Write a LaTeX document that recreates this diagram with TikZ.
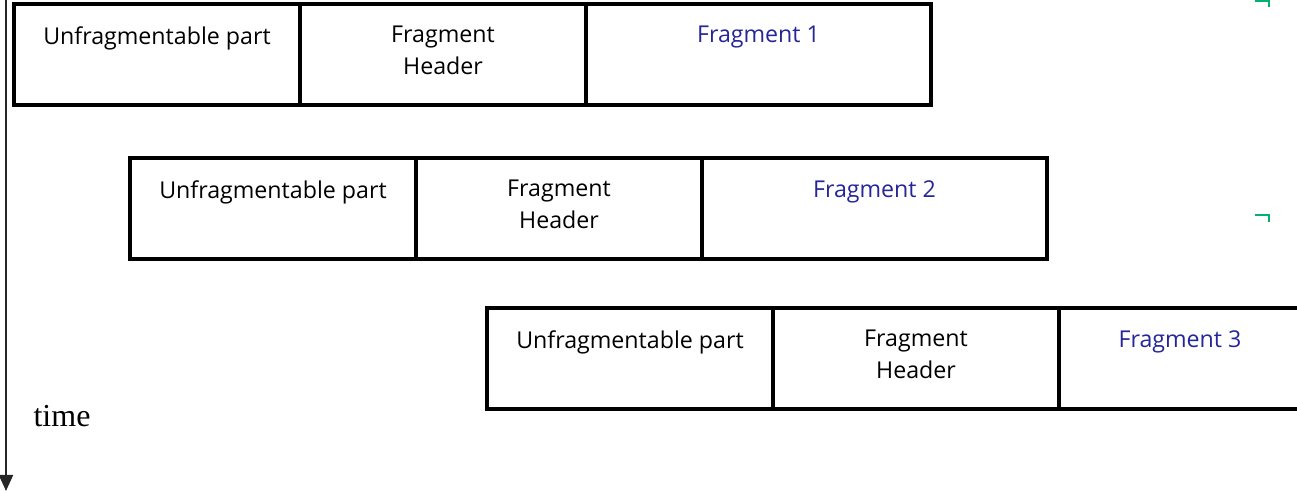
\documentclass[tikz,border=0pt]{standalone}
\usepackage{fontspec}
\setmainfont{Open Sans}
\newfontfamily\timefont{Liberation Serif}
\usetikzlibrary{positioning,arrows.meta}
\definecolor{fragblue}{RGB}{38,38,152}
\definecolor{markgreen}{RGB}{0,178,110}
\tikzset{
  cell/.style={draw, line width=1.7pt, minimum width=143pt, minimum height=50.5pt, inner sep=0pt, outer sep=0pt},
  widecell/.style={cell, minimum width=172.5pt},
  celltext/.style={anchor=north, inner sep=0pt, align=center, font=\fontsize{11.6}{16}\selectfont, yshift=-11pt},
}
\begin{document}
\begin{tikzpicture}[x=0.5pt,y=-0.5pt]
        \useasboundingbox (0,0) rectangle (1297,491);
        \clip (0,0) rectangle (1297,491);
        % first packet
        \node[cell, anchor=north west] (u1) at (14,4) {};
        \node[cell, right=0pt of u1] (h1) {};
        \node[widecell, right=0pt of h1] (f1) {};
        \node[celltext] (u1t) at (u1.north) {Unfragmentable part};
        \node[celltext] (h1t) at (h1.north) {Fragment\\Header};
        \node[celltext, text=fragblue] (f1t) at (f1.north) {Fragment 1};
        % second packet
        \node[cell, anchor=north west] (u2) at (130,158) {};
        \node[cell, right=0pt of u2] (h2) {};
        \node[widecell, right=0pt of h2] (f2) {};
        \node[celltext] (u2t) at (u2.north) {Unfragmentable part};
        \node[celltext] (h2t) at (h2.north) {Fragment\\Header};
        \node[celltext, text=fragblue] (f2t) at (f2.north) {Fragment 2};
        % third packet
        \node[cell, anchor=north west] (u3) at (487,308) {};
        \node[cell, right=0pt of u3] (h3) {};
        \node[cell, right=0pt of h3, minimum width=160pt] (f3) {};
        \node[celltext] (u3t) at (u3.north) {Unfragmentable part};
        \node[celltext] (h3t) at (h3.north) {Fragment\\Header};
        \node[celltext, text=fragblue] (f3t) at (f3.north -| 1180,0) {Fragment 3};
        % time axis
        \coordinate (ttop) at (6,0);
        \coordinate (tbot) at (6,491);
        \draw[line width=1pt, black!85, -{Triangle[length=8pt,width=7pt]}] (ttop) -- (tbot);
        \node[font=\timefont\fontsize{16}{19}\selectfont] (tlabel) at (62,416) {time};
        % green corner marks
        \draw[markgreen, line width=1.4pt] (1255,1) -- (1269,1) -- (1269,7);
        \draw[markgreen, line width=1.4pt] (1255,215) -- (1269,215) -- (1269,222);
\end{tikzpicture}
\end{document}
